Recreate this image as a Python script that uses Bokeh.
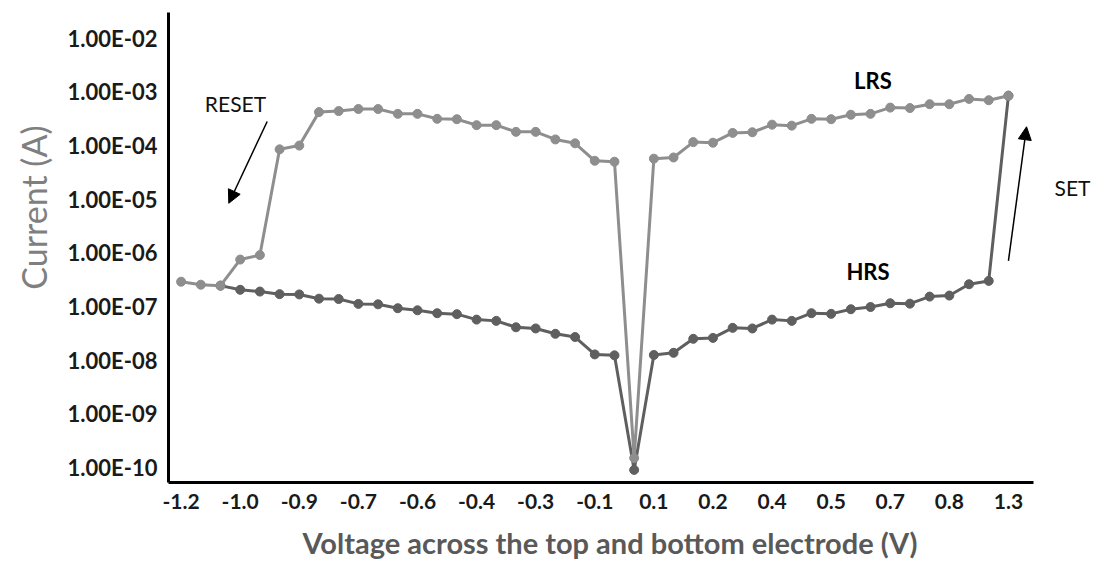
import math
from bokeh.plotting import figure
from bokeh.models import Range1d, FixedTicker, Label, Arrow, NormalHead, Title
from bokeh.embed import file_html
from bokeh.resources import INLINE

nan = float("nan")

# ---- data -------------------------------------------------------------
point_index = list(range(43))

x_tick_index = [0, 3, 6, 9, 12, 15, 18, 21, 24, 27, 30, 33, 36, 39, 42]
x_tick_labels = ["-1.2", "-1.0", "-0.9", "-0.7", "-0.6", "-0.4", "-0.3", "-0.1",
                 "0.1", "0.2", "0.4", "0.5", "0.7", "0.8", "1.3"]

y_tick_values = [1e-10, 1e-09, 1e-08, 1e-07, 1e-06, 1e-05, 1e-04, 1e-03, 1e-02]
y_tick_labels = ["1.00E-10", "1.00E-09", "1.00E-08", "1.00E-07", "1.00E-06",
                 "1.00E-05", "1.00E-04", "1.00E-03", "1.00E-02"]

lrs_current = [2.9e-7, 2.55e-7, 2.45e-7, 7.5e-7, 9.1e-7, 8.5e-5, 1.0e-4, 4.2e-4,
               4.4e-4, 4.8e-4, 4.8e-4, 3.9e-4, 3.9e-4, 3.15e-4, 3.1e-4, 2.4e-4,
               2.4e-4, 1.8e-4, 1.8e-4, 1.3e-4, 1.1e-4, 5.2e-5, 5.0e-5, 1.5e-10,
               5.7e-5, 6.0e-5, 1.16e-4, 1.13e-4, 1.72e-4, 1.77e-4, 2.45e-4, 2.35e-4,
               3.15e-4, 3.1e-4, 3.75e-4, 3.9e-4, 5.1e-4, 5.0e-4, 5.9e-4, 5.9e-4,
               7.4e-4, 7.0e-4, 8.5e-4]

hrs_current = [nan, nan, 2.45e-7, 2.05e-7, 1.9e-7, 1.7e-7, 1.68e-7, 1.4e-7,
               1.38e-7, 1.12e-7, 1.1e-7, 9.3e-8, 8.5e-8, 7.5e-8, 7.2e-8, 5.7e-8,
               5.4e-8, 4.1e-8, 3.9e-8, 3.1e-8, 2.7e-8, 1.28e-8, 1.23e-8, 9.0e-11,
               1.25e-8, 1.37e-8, 2.5e-8, 2.6e-8, 4.0e-8, 3.9e-8, 5.7e-8, 5.4e-8,
               7.5e-8, 7.3e-8, 8.9e-8, 9.8e-8, 1.15e-7, 1.13e-7, 1.53e-7, 1.6e-7,
               2.6e-7, 3.0e-7, 8.5e-4]

# ---- figure -----------------------------------------------------------
X_START, X_AXIS_END, X_END = -0.64, 43.27, 46.42

p = figure(width=1095, height=570,
           x_range=Range1d(X_START, X_END),
           y_range=Range1d(10 ** -10.28, 10 ** -1.52),
           y_axis_type="log",
           output_backend="svg", toolbar_location=None,
           title_location=None,
           min_border_left=168, min_border_right=0,
           min_border_top=12, min_border_bottom=85)

p.background_fill_color = "white"
p.border_fill_color = "white"
p.outline_line_color = None
p.xgrid.visible = False
p.ygrid.visible = False

HRS_COLOR = "#5f5f5f"
LRS_COLOR = "#8e8e8e"

p.line(point_index, hrs_current, line_color=HRS_COLOR, line_width=3)
p.scatter(point_index, hrs_current, size=9, fill_color=HRS_COLOR, line_color=HRS_COLOR)
p.line(point_index, lrs_current, line_color=LRS_COLOR, line_width=3)
p.scatter(point_index, lrs_current, size=9, fill_color=LRS_COLOR, line_color=LRS_COLOR)

# axes
for ax in (p.xaxis, p.yaxis):
    ax.axis_line_color = "black"
    ax.axis_line_width = 3
    ax.major_tick_line_color = None
    ax.minor_tick_line_color = None
    ax.major_label_text_font = "Lato"
    ax.major_label_text_font_style = "bold"
    ax.major_label_text_color = "#1a1a1a"

p.xaxis.bounds = (X_START, X_AXIS_END)
p.xaxis.ticker = FixedTicker(ticks=x_tick_index)
p.xaxis.major_label_overrides = dict(zip(x_tick_index, x_tick_labels))
p.xaxis.major_label_text_font_size = "21px"
p.xaxis.major_label_standoff = 5

p.yaxis.ticker = FixedTicker(ticks=y_tick_values)
p.yaxis.major_label_overrides = dict(zip(y_tick_values, y_tick_labels))
p.yaxis.major_label_text_font_size = "22px"
p.yaxis.major_label_standoff = 5

# axis titles
p.add_layout(Title(text="Current (A)", align="right", offset=113, standoff=20,
                   vertical_align="middle",
                   text_font="Lato", text_font_style="normal",
                   text_font_size="34px", text_color="#7f7f7f"), "left")
p.add_layout(Title(text="Voltage across the top and bottom electrode (V)",
                   align="left", offset=134, standoff=22,
                   text_font="Lato", text_font_style="bold",
                   text_font_size="29px", text_color="#595959"), "below")

# annotations
p.add_layout(Label(x=2.76, y=6.15e-4, text="RESET", text_align="center",
                   text_baseline="middle", text_font="Lato",
                   text_font_size="21px", text_color="#111111"))
p.add_layout(Label(x=45.25, y=1.66e-5, text="SET", text_align="center",
                   text_baseline="middle", text_font="Lato",
                   text_font_size="21px", text_color="#111111"))
p.add_layout(Label(x=35.12, y=1.63e-3, text="LRS", text_align="center",
                   text_baseline="middle", text_font="Lato", text_font_style="bold",
                   text_font_size="22px", text_color="black"))
p.add_layout(Label(x=34.87, y=4.43e-7, text="HRS", text_align="center",
                   text_baseline="middle", text_font="Lato", text_font_style="bold",
                   text_font_size="22px", text_color="black"))

p.add_layout(Arrow(x_start=4.37, y_start=2.81e-4, x_end=2.42, y_end=8.4e-6,
                   line_color="black", line_width=1.5,
                   end=NormalHead(size=13, fill_color="black", line_color="black")))
p.add_layout(Arrow(x_start=42.0, y_start=7.1e-7, x_end=42.92, y_end=2.24e-4,
                   line_color="black", line_width=1.5,
                   end=NormalHead(size=13, fill_color="black", line_color="black")))

open("out.html", "w").write(file_html(p, INLINE))
